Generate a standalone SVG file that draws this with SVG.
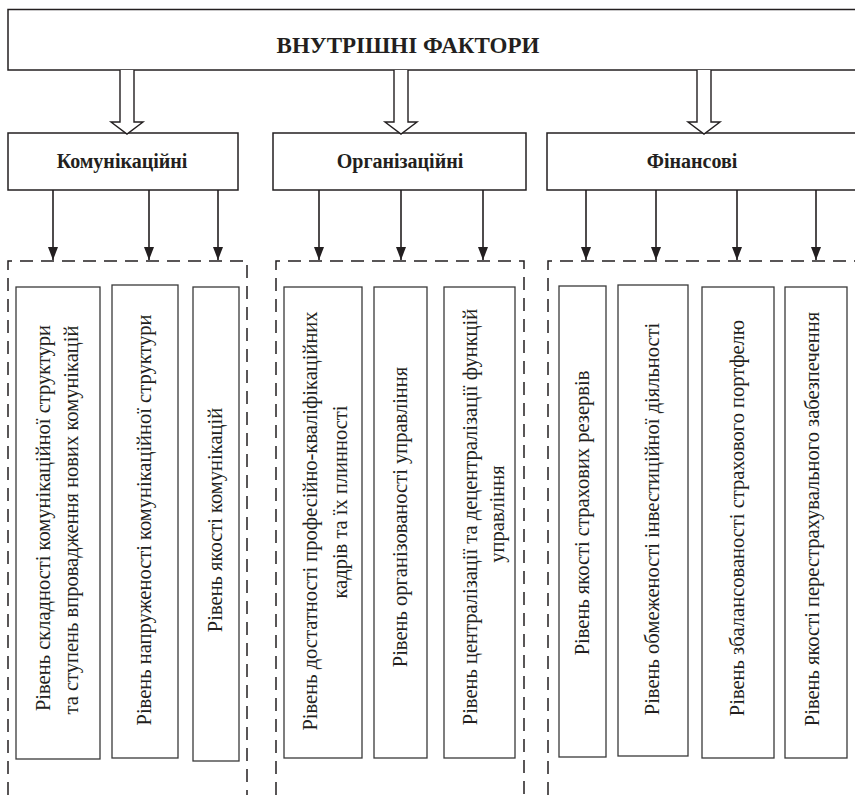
<svg xmlns="http://www.w3.org/2000/svg" width="855" height="795" viewBox="0 0 855 795">
  <defs>
    <marker id="tri" viewBox="0 0 13 10" refX="13" refY="5" markerWidth="13" markerHeight="10" markerUnits="userSpaceOnUse" orient="auto">
      <path d="M0,0 L13,5 L0,10 Z" fill="#231f20"/>
    </marker>
  </defs>
  <style>
    .box { fill: #fff; stroke: #231f20; stroke-width: 1.5; }
    .item { fill: #fff; stroke: #3a3a3a; stroke-width: 1.3; }
    .dash { fill: none; stroke: #231f20; stroke-width: 1.5; stroke-dasharray: 13 8; }
    .hollow { fill: #fff; stroke: #231f20; stroke-width: 1.4; stroke-linejoin: miter; }
    .thin { stroke: #231f20; stroke-width: 1.6; fill: none; }
    .title { font-weight: bold; font-size: 23px; fill: #231f20; text-anchor: middle; }
    .cat { font-weight: bold; font-size: 20px; fill: #231f20; text-anchor: middle; }
    .vt { font-size: 20.5px; fill: #231f20; text-anchor: middle; }
  </style>

  <rect width="855" height="795" fill="#fff"/>

  <g font-family="'Liberation Serif', 'DejaVu Serif', serif">
  <!-- root node -->
  <g id="internal-factors">
    <rect class="box" x="8" y="9.5" width="860" height="60.5"/>
    <text class="title" x="408" y="53">ВНУТРІШНІ ФАКТОРИ</text>
  </g>

  <!-- category nodes -->
  <g id="communication">
    <rect class="box" x="8" y="133" width="230" height="57"/>
    <text class="cat" x="122" y="168">Комунікаційні</text>
  </g>
  <g id="organization">
    <rect class="box" x="273" y="133" width="253" height="57"/>
    <text class="cat" x="400" y="168">Організаційні</text>
  </g>
  <g id="finance">
    <rect class="box" x="547" y="133" width="320" height="57"/>
    <text class="cat" x="692" y="168">Фінансові</text>
  </g>

  <!-- factor groups (open at the bottom) -->
  <g id="communication-group">
    <path class="dash" d="M8,795 V261 H247 V795"/>
    <g id="c1">
      <rect class="item" x="16" y="287" width="84" height="472"/>
      <text class="vt" transform="translate(50,518) rotate(-90)">Рівень складності комунікаційної структури</text>
      <text class="vt" transform="translate(78,520) rotate(-90)">та ступень впровадження нових комунікацій</text>
    </g>
    <g id="c2">
      <rect class="item" x="112" y="285" width="66" height="473"/>
      <text class="vt" transform="translate(151,520) rotate(-90)">Рівень напруженості комунікаційної структури</text>
    </g>
    <g id="c3">
      <rect class="item" x="193" y="287" width="46" height="474"/>
      <text class="vt" transform="translate(222,520) rotate(-90)">Рівень якості комунікацій</text>
    </g>
  </g>

  <g id="organization-group">
    <path class="dash" d="M276,795 V261 H524 V795"/>
    <g id="o1">
      <rect class="item" x="284" y="287" width="78" height="471"/>
      <text class="vt" transform="translate(317,521) rotate(-90)">Рівень достатності професійно-кваліфікаційних</text>
      <text class="vt" transform="translate(347,502) rotate(-90)">кадрів та їх плинності</text>
    </g>
    <g id="o2">
      <rect class="item" x="374" y="287" width="53" height="471"/>
      <text class="vt" transform="translate(407,517) rotate(-90)">Рівень організованості управління</text>
    </g>
    <g id="o3">
      <rect class="item" x="444" y="287" width="71" height="471"/>
      <text class="vt" transform="translate(477,517) rotate(-90)">Рівень централізації та децентралізації функцій</text>
      <text class="vt" transform="translate(504,514) rotate(-90)">управління</text>
    </g>
  </g>

  <g id="finance-group">
    <path class="dash" d="M548,795 V261 H860"/>
    <g id="f1">
      <rect class="item" x="559" y="286" width="47" height="471"/>
      <text class="vt" transform="translate(589,513) rotate(-90)">Рівень якості страхових резервів</text>
    </g>
    <g id="f2">
      <rect class="item" x="618" y="285" width="70" height="471"/>
      <text class="vt" transform="translate(659,519) rotate(-90)">Рівень обмеженості інвестиційної діяльності</text>
    </g>
    <g id="f3">
      <rect class="item" x="702" y="287" width="72" height="471"/>
      <text class="vt" transform="translate(744,518) rotate(-90)">Рівень збалансованості страхового портфелю</text>
    </g>
    <g id="f4">
      <rect class="item" x="785" y="287" width="62" height="471"/>
      <text class="vt" transform="translate(819,519) rotate(-90)">Рівень якості перестрахувального забезпечення</text>
    </g>
  </g>
  </g>

  <!-- connectors -->
  <g id="connectors">
    <path class="hollow" d="M120,70 V122 H111 L127,134 L143,122 H134 V70"/>
    <path class="hollow" d="M394,70 V122 H385 L401,134 L417,122 H408 V70"/>
    <path class="hollow" d="M697,70 V122 H688 L704,134 L720,122 H711 V70"/>

    <path class="thin" d="M53,190 V260" marker-end="url(#tri)"/>
    <path class="thin" d="M149,190 V260" marker-end="url(#tri)"/>
    <path class="thin" d="M218,190 V260" marker-end="url(#tri)"/>
    <path class="thin" d="M319,190 V260" marker-end="url(#tri)"/>
    <path class="thin" d="M401,190 V260" marker-end="url(#tri)"/>
    <path class="thin" d="M483,190 V260" marker-end="url(#tri)"/>
    <path class="thin" d="M586,190 V260" marker-end="url(#tri)"/>
    <path class="thin" d="M656,190 V260" marker-end="url(#tri)"/>
    <path class="thin" d="M737,190 V260" marker-end="url(#tri)"/>
    <path class="thin" d="M816,190 V260" marker-end="url(#tri)"/>
  </g>
</svg>
